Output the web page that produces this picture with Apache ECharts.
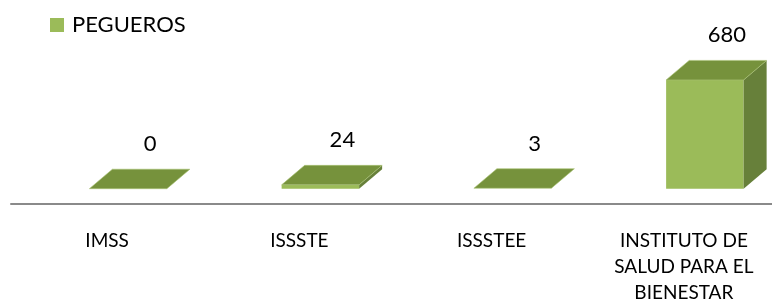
<!DOCTYPE html>
<html>
<head>
<meta charset="utf-8">
<script src="https://cdn.jsdelivr.net/npm/echarts@6/dist/echarts.min.js"></script>
<style>
  html, body { margin: 0; padding: 0; background: #fff; overflow: hidden; }
  /* chart is a bit wider than the window: the last band runs past the right edge */
  #chart { width: 780px; height: 306px; }
</style>
</head>
<body>
<div id="chart"></div>
<script>
const categories = ["IMSS", "ISSSTE", "ISSSTEE", "INSTITUTO DE\nSALUD PARA EL\nBIENESTAR"];
const pegueros = [0, 24, 3, 680];
const seriesName = "PEGUEROS";

const FONT = "Lato, 'Open Sans', sans-serif";
// depth offsets of the 3D look
const DX = 23, DY = 19.5, SHIFT_X = 21, SHIFT_Y = 15.3, BAR_W = 77.5;

const myCharts = echarts.init(document.getElementById("chart"));

const option = {
  animation: false,
  legend: {
    left: 50,
    top: 14,
    padding: 0,
    icon: "rect",
    itemWidth: 14,
    itemHeight: 14,
    textStyle: { fontFamily: FONT, fontSize: 22, color: "#000", padding: [0, 0, 0, 3] },
    data: [seriesName],
  },
  grid: {
    left: 11,
    right: 0,
    top: 76,
    bottom: 100,
  },
  xAxis: {
    type: "category",
    data: categories,
    axisTick: { show: false },
    axisLine: { lineStyle: { color: "#8a8a8a", width: 2 } },
    axisLabel: {
      interval: 0,
      margin: 24,
      verticalAlign: "top",
      fontFamily: FONT,
      fontSize: 19,
      lineHeight: 26,
      color: "#000",
    },
  },
  yAxis: {
    type: "value",
    min: 0,
    max: 800,
    show: false,
  },
  series: [
    {
      name: seriesName,
      type: "custom",
      itemStyle: { color: "#9bbb59" },
      data: pegueros.map((v, i) => [i, v]),
      renderItem: (params, api) => {
        const base = api.coord([api.value(0), 0]);
        const top = api.coord([api.value(0), api.value(1)]);
        const cx = base[0] + SHIFT_X;
        const x0 = cx - BAR_W / 2;
        const x1 = cx + BAR_W / 2;
        const yb = base[1] - SHIFT_Y;
        const yt = top[1] - SHIFT_Y;
        const children = [];
        if (yb - yt > 0.5) {
          children.push({
            type: "rect",
            shape: { x: x0, y: yt, width: BAR_W, height: yb - yt },
            style: { fill: "#9bbb59" },
          });
          children.push({
            type: "polygon",
            shape: { points: [[x1, yt], [x1 + DX, yt - DY], [x1 + DX, yb - DY], [x1, yb]] },
            style: { fill: "#67803a" },
          });
        }
        children.push({
          type: "polygon",
          shape: { points: [[x0, yt], [x1, yt], [x1 + DX, yt - DY], [x0 + DX, yt - DY]] },
          style: { fill: "#76923c", stroke: "#a9c273", lineWidth: 0.6 },
        });
        children.push({
          type: "text",
          style: {
            x: cx + 22,
            y: yt - DY - 25,
            text: String(api.value(1)),
            align: "center",
            verticalAlign: "middle",
            fontFamily: FONT,
            fontSize: 22,
            fill: "#000",
          },
        });
        return { type: "group", children };
      },
    },
  ],
};

myCharts.setOption(option);
</script>
</body>
</html>
